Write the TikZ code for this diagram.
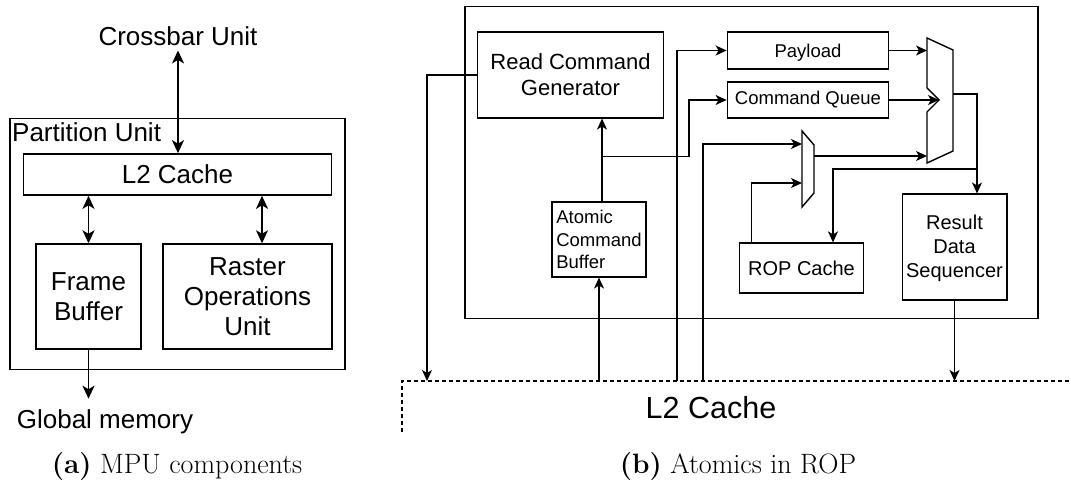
\documentclass[tikz,border=0pt]{standalone}
\usepackage{fontspec}
\newfontfamily\arial{Liberation Sans}
\usetikzlibrary{arrows.meta,calc}
\newcommand\fsz[2]{\fontsize{#1bp}{#2bp}\selectfont}
\tikzset{
  ltip/.tip={Stealth[length=13bp,width=12bp,inset=3.5bp]},
  rtip/.tip={Stealth[length=11bp,width=10bp,inset=3bp]},
  lbox/.style={draw, line width=1.8bp, inner sep=0pt, align=center, font={\arial\fsz{26}{30}}},
  rbox/.style={draw, line width=1.4bp, inner sep=0pt, align=center},
  lbl/.style={inner sep=4bp, font={\arial\fsz{26}{30}}},
  lconn/.style={line width=1.8bp},
  rconn/.style={line width=1.4bp},
  larr/.style={lconn, -ltip},
  ldarr/.style={lconn, ltip-ltip},
  rarr/.style={rconn, -rtip},
  muxline/.style={line width=1.4bp, line join=miter},
  l2dash/.style={line width=1.4bp, dash pattern=on 4bp off 3bp},
}
\begin{document}
\begin{tikzpicture}[x=1bp,y=-1bp]
\useasboundingbox (0,0) rectangle (1071,486);

% ---------------- (a) MPU components ----------------
\node[lbl, anchor=base] (xbar) at (178,46) {Crossbar Unit};
\node[lbox, minimum width=337, minimum height=252] (pu) at (177.5,244) {};
\node[lbl, anchor=base west, inner sep=0pt] (putxt) at (12,142) {Partition Unit};
\node[lbox, minimum width=309, minimum height=41] (l2a) at (177.5,174.5) {L2 Cache};
\node[lbox, minimum width=105, minimum height=105] (fb) at (88.5,296.5) {Frame\\Buffer};
\node[lbox, minimum width=169, minimum height=105] (rou) at (247.5,296.5) {Raster\\Operations\\Unit};
\node[lbl, anchor=base] (gm) at (105,428) {Global memory};

\draw[ldarr] (xbar.south) -- (xbar.south |- l2a.north);
\draw[ldarr] (fb.north |- l2a.south) -- (fb.north);
\draw[ldarr] ($(rou.north)+(14.5,0)$) coordinate (rtop) -- (rtop |- l2a.south);
\draw[larr] (fb.south) -- ($(fb.south)+(0,49)$);

\node[anchor=base, inner sep=0pt, font=\fsz{28}{32}] (capa) at (177,473) {\textbf{(a)} MPU components};

% ---------------- (b) Atomics in ROP ----------------
\node[rbox, minimum width=575, minimum height=313] (rop) at (751.5,162.5) {};
\node[rbox, font={\arial\fsz{22}{26}}, minimum width=187, minimum height=86] (rcg) at (570.5,75) {Read Command\\Generator};
\node[rbox, font={\arial\fsz{18.5}{22.5}}, align=left, minimum width=94, minimum height=75] (acb) at (599,239.5) {Atomic\\Command\\Buffer};
\node[rbox, font={\arial\fsz{18.5}{22}}, minimum width=162, minimum height=37, text depth=0pt] (pay) at (808,50.5) {Payload};
\node[rbox, font={\arial\fsz{18.5}{22}}, minimum width=162, minimum height=36] (cq) at (808,100) {Command Queue};
\node[rbox, font={\arial\fsz{20}{24}}, minimum width=125, minimum height=50] (ropc) at (801.5,268) {ROP Cache};
\node[rbox, font={\arial\fsz{20}{24}}, minimum width=105, minimum height=106] (rsd) at (954.5,247) {\rule{0pt}{17bp}Result\\Data\\Sequencer};

% small multiplexer
\coordinate (sm1) at (802,131);
\coordinate (sm2) at (814,145);
\coordinate (sm3) at (814,193);
\coordinate (sm4) at (802,207);
\draw[muxline] (sm1) -- (sm2) -- (sm3) -- (sm4) -- cycle;
\coordinate (smin1) at (802,144);
\coordinate (smin2) at (802,183);
\coordinate (smout) at (814,156);

% big multiplexer
\coordinate (bm1) at (927,38);
\coordinate (bm2) at (953,50);
\coordinate (bm3) at (953,151);
\coordinate (bm4) at (927,163);
\coordinate (bm5) at (927,112);
\coordinate (bm6) at (939,100);
\coordinate (bm7) at (927,88);
\draw[muxline] (bm1) -- (bm2) -- (bm3) -- (bm4) -- (bm5) -- (bm6) -- (bm7) -- cycle;
\coordinate (bmin1) at (927,50.5);
\coordinate (bmin2) at (939,100);
\coordinate (bmin3) at (927,156);
\coordinate (bmout) at (953,94);

% L2 cache (dashed)
\coordinate (l2bot) at (402,432);
\coordinate (l2corner) at (402,381);
\coordinate (l2end) at (1071,381);
\draw[l2dash] (l2bot) -- (l2corner) -- (l2end);
\node[anchor=base, inner sep=0pt, font={\arial\fsz{30.5}{34}}] (l2b) at (711,418) {L2 Cache};
\coordinate (l2p1) at (427,381);
\coordinate (l2p3) at (677,381);
\coordinate (l2p4) at (703,381);

% connectors
\draw[rarr] (rcg.west) -| (l2p1);
\draw[rarr] (acb.south |- l2corner) -- (acb.south);
\coordinate (acbtop) at ($(acb.north)+(3,0)$);
\draw[rarr, line width=1.8bp] (acbtop) -- (acbtop |- rcg.south);
\coordinate (br1) at ($(acbtop)+(0,-45)$);
\draw[rarr] (br1) -- ++(87,0) |- (cq.west);
\draw[rarr] (l2p3) |- (pay.west);
\draw[rarr] (l2p4) |- (smin1);
\draw[rarr] ($(ropc.north west)+(13,0)$) |- (smin2);
\draw[rarr] (smout) -- (bmin3);
\draw[rarr] (pay.east) -- (bmin1);
\draw[rarr] (cq.east) -- (bmin2);
\coordinate (rsdin) at ($(rsd.north)+(22.5,0)$);
\draw[rarr] (bmout) -| (rsdin);
\coordinate (br2) at (977,169);
\coordinate (ropcin) at ($(ropc.north)+(31.5,0)$);
\draw[rarr] (br2) -| (ropcin);
\draw[rarr] (rsd.south) -- (rsd.south |- l2corner);

\node[anchor=base, inner sep=0pt, font=\fsz{28}{32}] (capb) at (738,473) {\textbf{(b)} Atomics in ROP};
\end{tikzpicture}
\end{document}
